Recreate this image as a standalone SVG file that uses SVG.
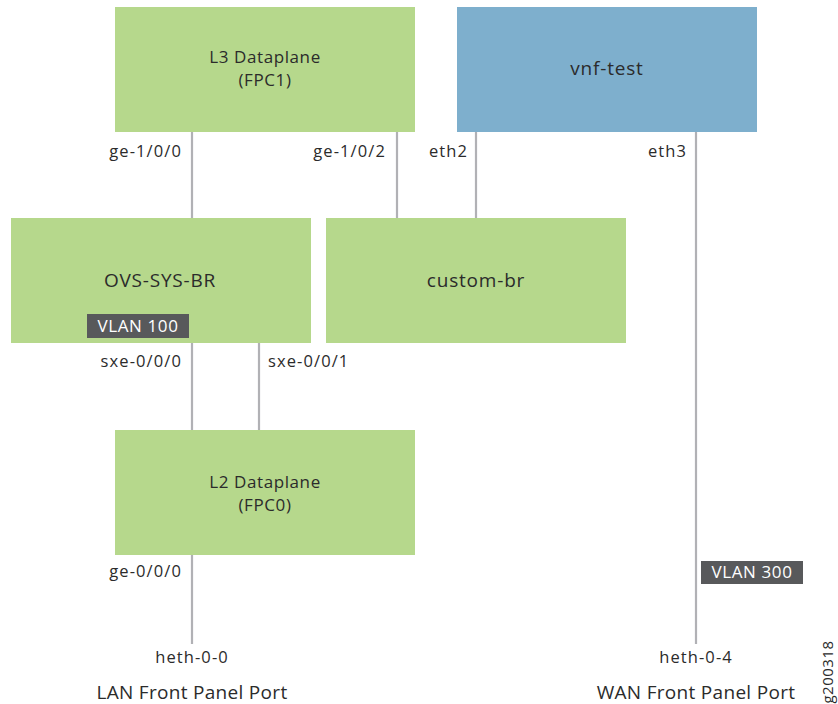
<svg xmlns="http://www.w3.org/2000/svg" width="838" height="704" viewBox="0 0 838 704">
  <style>
    .green { fill: #b6d88c; }
    .blue { fill: #7eafcd; }
    .wire { stroke: #b1b1b5; stroke-width: 2.2; fill: none; }
    .title { font-family: "Open Sans", "Liberation Sans", sans-serif; font-size: 17px; fill: #2b2b2b; text-anchor: middle; letter-spacing: 0.6px; }
    .big { font-size: 19px; letter-spacing: 0.8px; }
    .port { font-family: "Open Sans", "Liberation Sans", sans-serif; font-size: 16.5px; fill: #2b2b2b; letter-spacing: 1.1px; }
    .end { text-anchor: end; }
    .mid { text-anchor: middle; }
    .badge { fill: #58595b; }
    .badge-text { font-family: "Open Sans", "Liberation Sans", sans-serif; font-size: 17px; fill: #ffffff; text-anchor: middle; letter-spacing: 0.6px; }
    .caption { font-family: "Open Sans", "Liberation Sans", sans-serif; font-size: 19px; fill: #2b2b2b; text-anchor: middle; letter-spacing: 0.3px; }
    .figid { font-family: "Open Sans", "Liberation Sans", sans-serif; font-size: 15px; fill: #2b2b2b; text-anchor: middle; letter-spacing: 0.5px; }
  </style>

  <!-- connectors -->
  <g id="connectors">
    <line class="wire" x1="192" y1="132" x2="192" y2="218"/>
    <line class="wire" x1="397" y1="132" x2="397" y2="218"/>
    <line class="wire" x1="476" y1="132" x2="476" y2="218"/>
    <line class="wire" x1="696" y1="132" x2="696" y2="644"/>
    <line class="wire" x1="192" y1="343" x2="192" y2="430"/>
    <line class="wire" x1="259" y1="343" x2="259" y2="430"/>
    <line class="wire" x1="192" y1="555" x2="192" y2="644"/>
  </g>

  <!-- nodes -->
  <g id="l3-dataplane">
    <rect class="green" x="115" y="7" width="300" height="125"/>
    <text class="title" x="265" y="63">L3 Dataplane</text>
    <text class="title" x="265" y="86">(FPC1)</text>
  </g>

  <g id="vnf-test">
    <rect class="blue" x="457" y="7" width="300" height="125"/>
    <text class="title big" x="607" y="75">vnf-test</text>
  </g>

  <g id="ovs-sys-br">
    <rect class="green" x="11" y="218" width="300" height="125"/>
    <text class="title big" x="160" y="287">OVS-SYS-BR</text>
    <rect class="badge" x="87" y="314" width="102" height="24"/>
    <text class="badge-text" x="138" y="332">VLAN 100</text>
  </g>

  <g id="custom-br">
    <rect class="green" x="326" y="218" width="300" height="125"/>
    <text class="title big" x="476" y="287">custom-br</text>
  </g>

  <g id="l2-dataplane">
    <rect class="green" x="115" y="430" width="300" height="125"/>
    <text class="title" x="265" y="488">L2 Dataplane</text>
    <text class="title" x="265" y="511">(FPC0)</text>
  </g>

  <g id="vlan-300">
    <rect class="badge" x="701" y="561" width="102" height="23"/>
    <text class="badge-text" x="752" y="578">VLAN 300</text>
  </g>

  <!-- port labels -->
  <g id="port-labels">
    <text class="port end" x="182" y="157">ge-1/0/0</text>
    <text class="port end" x="386" y="157">ge-1/0/2</text>
    <text class="port end" x="468" y="157">eth2</text>
    <text class="port end" x="687" y="157">eth3</text>
    <text class="port end" x="182" y="367">sxe-0/0/0</text>
    <text class="port" x="268" y="367">sxe-0/0/1</text>
    <text class="port end" x="182" y="577">ge-0/0/0</text>
    <text class="port mid" x="192" y="663">heth-0-0</text>
    <text class="port mid" x="696" y="663">heth-0-4</text>
  </g>

  <!-- front panel captions and figure id -->
  <g id="captions">
    <text class="caption" x="192" y="699">LAN Front Panel Port</text>
    <text class="caption" x="696" y="699">WAN Front Panel Port</text>
    <text class="figid" transform="translate(833 672) rotate(-90)" x="0" y="0">g200318</text>
  </g>
</svg>
